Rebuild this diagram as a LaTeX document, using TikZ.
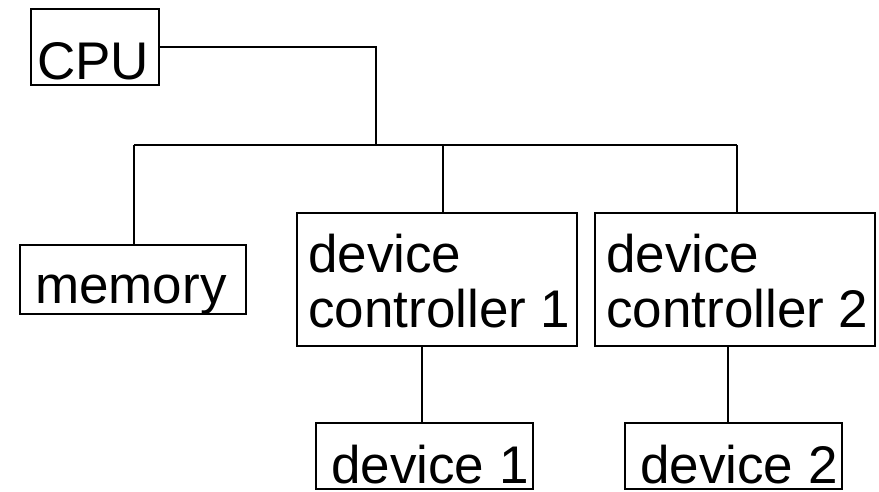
\documentclass[tikz,border=0pt]{standalone}
\usepackage{fontspec}
\setmainfont{Liberation Sans}
\begin{document}
\begin{tikzpicture}[x=1pt,y=-1pt,
  box/.style={draw,line width=2pt,rectangle,inner sep=0pt},
  lbl/.style={anchor=base west,inner sep=0pt,font=\fontsize{53}{55}\selectfont},
  wire/.style={line width=2pt}]
\useasboundingbox (0,0) rectangle (879,491);
% boxes
\node[box,minimum width=128pt,minimum height=76pt] (cpu) at (95,47) {};
\node[box,minimum width=226pt,minimum height=69pt] (mem) at (133,279.5) {};
\node[box,minimum width=280pt,minimum height=133pt] (dc1) at (437,279.5) {};
\node[box,minimum width=280pt,minimum height=133pt] (dc2) at (735,279.5) {};
\node[box,minimum width=217pt,minimum height=66pt] (dev1) at (424.5,456) {};
\node[box,minimum width=217pt,minimum height=66pt] (dev2) at (733.5,456) {};
% labels
\node[lbl] (tcpu) at (37,79) {CPU};
\node[lbl] (tmem) at (35,303) {memory};
\node[lbl] (tdc1a) at (308,272) {device};
\node[lbl] (tdc1b) at (308,327) {controller 1};
\node[lbl] (tdc2a) at (606,272) {device};
\node[lbl] (tdc2b) at (606,327) {controller 2};
\node[lbl] (tdev1) at (331,483) {device 1};
\node[lbl] (tdev2) at (640,483) {device 2};
% bus
\coordinate (busL) at (134,145);
\coordinate (busR) at (737,145);
\coordinate (busC) at (376,145);
\coordinate (tap1) at (443,145);
\draw[wire] (busL) -- (busR);
\draw[wire] (cpu.east) -| (busC);
\draw[wire] (busL) -- (busL |- mem.north);
\draw[wire] (tap1) -- (tap1 |- dc1.north);
\draw[wire] (busR) -- (busR |- dc2.north);
% controller to device links
\coordinate (d1) at (422,0);
\coordinate (d2) at (728,0);
\draw[wire] (d1 |- dc1.south) -- (d1 |- dev1.north);
\draw[wire] (d2 |- dc2.south) -- (d2 |- dev2.north);
\end{tikzpicture}
\end{document}
